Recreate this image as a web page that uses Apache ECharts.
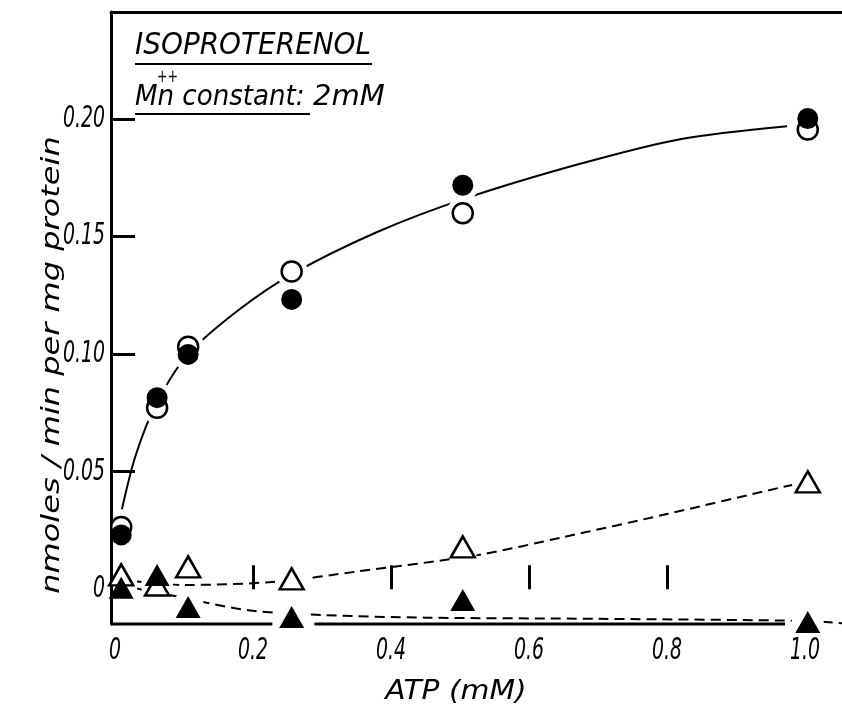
<!DOCTYPE html>
<html>
<head>
<meta charset="utf-8">
<script src="https://cdn.jsdelivr.net/npm/echarts@6/dist/echarts.min.js"></script>
<style>
  html, body { margin: 0; padding: 0; background: #fff; }
  #chart { width: 842px; height: 713px; }
</style>
</head>
<body>
<div id="chart"></div>
<script>
// ATP concentrations (mM) at which activity was measured
const atp = [0.009, 0.061, 0.106, 0.256, 0.504, 1.004];

// Adenylate cyclase activity, nmoles / min per mg protein
const openCircles     = [0.0265, 0.0772, 0.1032, 0.1352, 0.1600, 0.1956];
const filledCircles   = [0.0231, 0.0815, 0.0999, 0.1233, 0.1719, 0.2003];
const openTriangles   = [0.0061, 0.0018, 0.0095, 0.0044, 0.0180, 0.0457];
const filledTriangles = [0.0006, 0.0061, -0.0076, -0.0118, -0.0046, -0.0139];

// Hand-fitted curves through the points
const solidFitX = [0.010, 0.030, 0.060, 0.106, 0.180, 0.256, 0.380, 0.505, 0.674, 0.819, 0.974];
const solidFitY = [0.034, 0.057, 0.079, 0.100, 0.119, 0.134, 0.152, 0.166, 0.181, 0.1915, 0.197];

const openFitX = [0.009, 0.100, 0.234, 0.350, 0.5265, 0.650, 0.800, 0.971, 1.004];
const openFitY = [0.004, 0.0018, 0.0032, 0.0075, 0.0146, 0.0222, 0.0320, 0.0437, 0.0457];

const filledFitX = [0.009, 0.065, 0.133, 0.200, 0.300, 0.450, 0.700, 1.004, 1.0536];
const filledFitY = [0.0015, -0.0016, -0.0058, -0.0092, -0.0110, -0.0121, -0.0126, -0.0135, -0.0145];

// Axis extents, ticks and labels
const xMin = -0.0058, xMax = 1.0536;
const yMin = -0.0148, yMax = 0.2456;
const xTicks = [0.2, 0.4, 0.6, 0.8];
const xLabels = [0, 0.2, 0.4, 0.6, 0.8, 1.0];
const yTicks = [0.05, 0.10, 0.15, 0.20];
const yLabels = [0, 0.05, 0.10, 0.15, 0.20];
// the bottom axis is drawn in two pieces, broken beside the triangle near 0.25
const baseSegA = [xMin, 0.228];
const baseSegB = [0.289, 0.971];

const pairs = (xs, ys) => xs.map((x, i) => [x, ys[i]]);
const FONT = '"DejaVu Sans", sans-serif';
const INK = '#000';
const LABEL_FONT = 'italic 30px ' + FONT;

const chart = echarts.init(document.getElementById('chart'), null, { renderer: 'canvas' });

const markerSeries = (data, symbol, size, filled) => ({
  type: 'scatter',
  data: pairs(atp, data),
  symbol: symbol,
  symbolSize: size,
  z: 5,
  silent: true,
  itemStyle: {
    color: filled ? INK : '#fff',
    borderColor: INK,
    borderWidth: filled ? 0 : 2.5,
    opacity: 1
  }
});

// white discs under each marker open small gaps in the curves around it
const haloSeries = (data, size) => ({
  type: 'scatter',
  data: pairs(atp, data),
  symbol: 'circle',
  symbolSize: size,
  z: 2,
  silent: true,
  itemStyle: { color: '#fff', opacity: 1 }
});

const curveSeries = (xs, ys, dashed) => ({
  type: 'line',
  data: pairs(xs, ys),
  smooth: 0.3,
  showSymbol: false,
  symbol: 'none',
  clip: false,
  z: 1,
  silent: true,
  lineStyle: { color: INK, width: 2, type: dashed ? [10, 6] : 'solid' }
});

const baseSeries = seg => ({
  type: 'line',
  data: seg.map(x => [x, yMin]),
  showSymbol: false,
  symbol: 'none',
  clip: false,
  z: 3,
  silent: true,
  lineStyle: { color: INK, width: 3 }
});

// condensed italic tick labels, placed through the axis scales
const tickLabelSeries = (values, axis) => ({
  type: 'custom',
  coordinateSystem: 'cartesian2d',
  clip: false,
  silent: true,
  z: 6,
  data: values.map(v => (axis === 'y' ? [xMin, v] : [v, yMin])),
  renderItem: (params, api) => {
    const v = axis === 'y' ? api.value(1) : api.value(0);
    const p = api.coord([api.value(0), api.value(1)]);
    const text = v === 0 ? '0' : (axis === 'y' ? v.toFixed(2) : v.toFixed(1));
    return {
      type: 'text',
      x: axis === 'y' ? p[0] - 6 : p[0],
      y: axis === 'y' ? p[1] : p[1] + 27,
      scaleX: 0.63,
      style: {
        text: text,
        font: LABEL_FONT,
        fill: INK,
        textAlign: axis === 'y' ? 'right' : 'center',
        textVerticalAlign: 'middle'
      }
    };
  }
});

chart.setOption({
  animation: false,
  backgroundColor: '#fff',
  grid: { left: 111, right: 0, top: 12, bottom: 89, containLabel: false },
  xAxis: [{
    type: 'value',
    min: xMin,
    max: xMax,
    z: 3,
    axisLine: { show: false },
    splitLine: { show: false },
    axisLabel: { show: false },
    axisTick: {
      show: true,
      inside: true,
      length: 24,
      customValues: xTicks,
      lineStyle: { color: INK, width: 3 }
    }
  }, {
    type: 'value',
    position: 'top',
    min: xMin,
    max: xMax,
    z: 3,
    axisLine: { show: true, onZero: false, lineStyle: { color: INK, width: 3 } },
    axisTick: { show: false },
    axisLabel: { show: false },
    splitLine: { show: false }
  }],
  yAxis: {
    type: 'value',
    min: yMin,
    max: yMax,
    z: 3,
    axisLine: { show: true, onZero: false, lineStyle: { color: INK, width: 3 } },
    splitLine: { show: false },
    axisLabel: { show: false },
    axisTick: {
      show: true,
      inside: true,
      length: 24,
      customValues: yTicks,
      lineStyle: { color: INK, width: 3 }
    }
  },
  series: [
    baseSeries(baseSegA),
    baseSeries(baseSegB),
    curveSeries(solidFitX, solidFitY, false),
    curveSeries(openFitX, openFitY, true),
    curveSeries(filledFitX, filledFitY, true),
    haloSeries(openCircles, 32),
    haloSeries(filledCircles, 32),
    haloSeries(openTriangles, 32),
    haloSeries(filledTriangles, 32),
    markerSeries(openCircles, 'circle', 20, false),
    markerSeries(filledCircles, 'circle', 21, true),
    markerSeries(openTriangles, 'triangle', [24, 21], false),
    markerSeries(filledTriangles, 'triangle', [25, 22], true),
    tickLabelSeries(yLabels, 'y'),
    tickLabelSeries(xLabels, 'x')
  ],
  graphic: [
    {
      type: 'text', x: 135, y: 46, z: 10, scaleX: 0.93,
      style: { text: 'ISOPROTERENOL', font: 'italic 30px ' + FONT, fill: INK, textVerticalAlign: 'middle' }
    },
    { type: 'line', z: 10, shape: { x1: 135, y1: 64, x2: 372, y2: 64 }, style: { stroke: INK, lineWidth: 2 } },
    {
      type: 'text', x: 157, y: 77, z: 10, scaleX: 0.7,
      style: { text: '++', font: 'italic 18px ' + FONT, fill: INK, textVerticalAlign: 'middle' }
    },
    {
      type: 'text', x: 135, y: 97, z: 10, scaleX: 0.9,
      style: { text: 'Mn constant:', font: 'italic 29px ' + FONT, fill: INK, textVerticalAlign: 'middle' }
    },
    {
      type: 'text', x: 313, y: 97, z: 10, scaleX: 1.0,
      style: { text: '2mM', font: 'italic 29px ' + FONT, fill: INK, textVerticalAlign: 'middle' }
    },
    { type: 'line', z: 10, shape: { x1: 135, y1: 114, x2: 310, y2: 114 }, style: { stroke: INK, lineWidth: 2 } },
    {
      type: 'text', x: 456, y: 692, z: 10, scaleX: 1.1,
      style: { text: 'ATP (mM)', font: 'italic 27px ' + FONT, fill: INK, textAlign: 'center', textVerticalAlign: 'middle' }
    },
    {
      type: 'text', x: 52, y: 365, z: 10, rotation: Math.PI / 2, scaleX: 1.28,
      style: { text: 'nmoles / min per mg protein', font: 'italic 25px ' + FONT, fill: INK, textAlign: 'center', textVerticalAlign: 'middle' }
    }
  ]
});
</script>
</body>
</html>
